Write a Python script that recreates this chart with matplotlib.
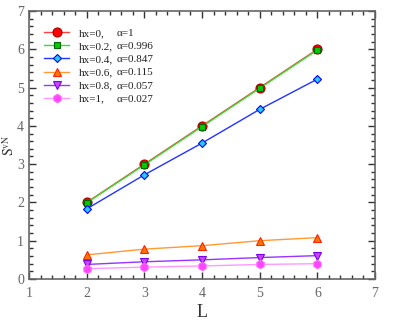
import matplotlib
matplotlib.use('Agg')
import matplotlib.pyplot as plt
from matplotlib.ticker import MultipleLocator

# --- data ---
L = [2, 3, 4, 5, 6]
hx_labels = ['hx=0,', 'hx=0.2,', 'hx=0.4,', 'hx=0.6,', 'hx=0.8,', 'hx=1,']
alpha_labels = ['α=1', 'α=0.996', 'α=0.847', 'α=0.115', 'α=0.057', 'α=0.027']

s_hx0 = [2.00, 3.00, 4.00, 5.00, 6.00]
s_hx02 = [1.99, 2.98, 3.98, 4.98, 5.98]
s_hx04 = [1.83, 2.72, 3.55, 4.43, 5.22]
s_hx06 = [0.63, 0.78, 0.87, 1.00, 1.08]
s_hx08 = [0.38, 0.45, 0.50, 0.56, 0.61]
s_hx1 = [0.27, 0.31, 0.34, 0.38, 0.40]
series = [s_hx0, s_hx02, s_hx04, s_hx06, s_hx08, s_hx1]

# line colour, marker, face colour, edge colour, marker size
styles = [
    ('#ff4040', 'o', '#ff0000', '#aa0000', 6.5),
    ('#33dd33', 's', '#00cc00', '#006600', 5),
    ('#2233ff', 'D', '#22ccff', '#0000ff', 4.5),
    ('#ff9933', '^', '#ff7700', '#ff2200', 6),
    ('#9933ff', 'v', '#cc44ff', '#7700ee', 6),
    ('#ff99ff', 'h', '#ff44ff', '#ff66ff', 6),
]

plt.rcParams['font.family'] = ['Liberation Serif', 'DejaVu Serif']
plt.rcParams['mathtext.fontset'] = 'stix'

fig = plt.figure(figsize=(4.15, 3.27), dpi=100)
ax = fig.add_axes([0.0699, 0.1468, 0.8337, 0.8196])

for y, lab, (lc, mk, fc, ec, ms) in zip(series, hx_labels, styles):
    ax.plot(L, y, color=lc, lw=1, marker=mk, markersize=ms,
            markerfacecolor=fc, markeredgecolor=ec, markeredgewidth=0.8,
            label=lab)

ax.set_xlim(1, 7)
ax.set_ylim(0, 7)
ax.xaxis.set_major_locator(MultipleLocator(1))
ax.xaxis.set_minor_locator(MultipleLocator(0.2))
ax.yaxis.set_major_locator(MultipleLocator(1))
ax.yaxis.set_minor_locator(MultipleLocator(0.2))
ax.tick_params(which='both', direction='in', top=True, right=True,
               color='#333333', labelcolor='#666666', labelsize=10, width=1)
ax.tick_params(which='major', length=5)
ax.tick_params(which='minor', length=3)
ax.tick_params(axis='x', pad=6)
for sp in ax.spines.values():
    sp.set_color('#666666')
    sp.set_linewidth(1.2)

ax.set_xlabel('L', fontsize=13, color='#333333', labelpad=3)
ax.set_ylabel(r'$\mathrm{S}^{\mathrm{vN}}$', fontsize=10, color='#333333')
ax.yaxis.set_label_coords(-0.035, 0.5)

leg = ax.legend(loc='upper left', bbox_to_anchor=(0.025, 0.96), frameon=False,
                fontsize=8, handlelength=2.2, handletextpad=0.9,
                labelspacing=0.3, borderaxespad=0.2)
for t in leg.get_texts():
    t.set_color('#222222')

# alpha column lined up with the legend rows
fig.canvas.draw()
inv = ax.transAxes.inverted()
for t, a in zip(leg.get_texts(), alpha_labels):
    bb = t.get_window_extent()
    yc = inv.transform((0, (bb.y0 + bb.y1) / 2))[1]
    ax.text(0.254, yc, a, transform=ax.transAxes,
            fontsize=8, color='#222222', va='center', ha='left')

fig.savefig('out.png', dpi=100)
